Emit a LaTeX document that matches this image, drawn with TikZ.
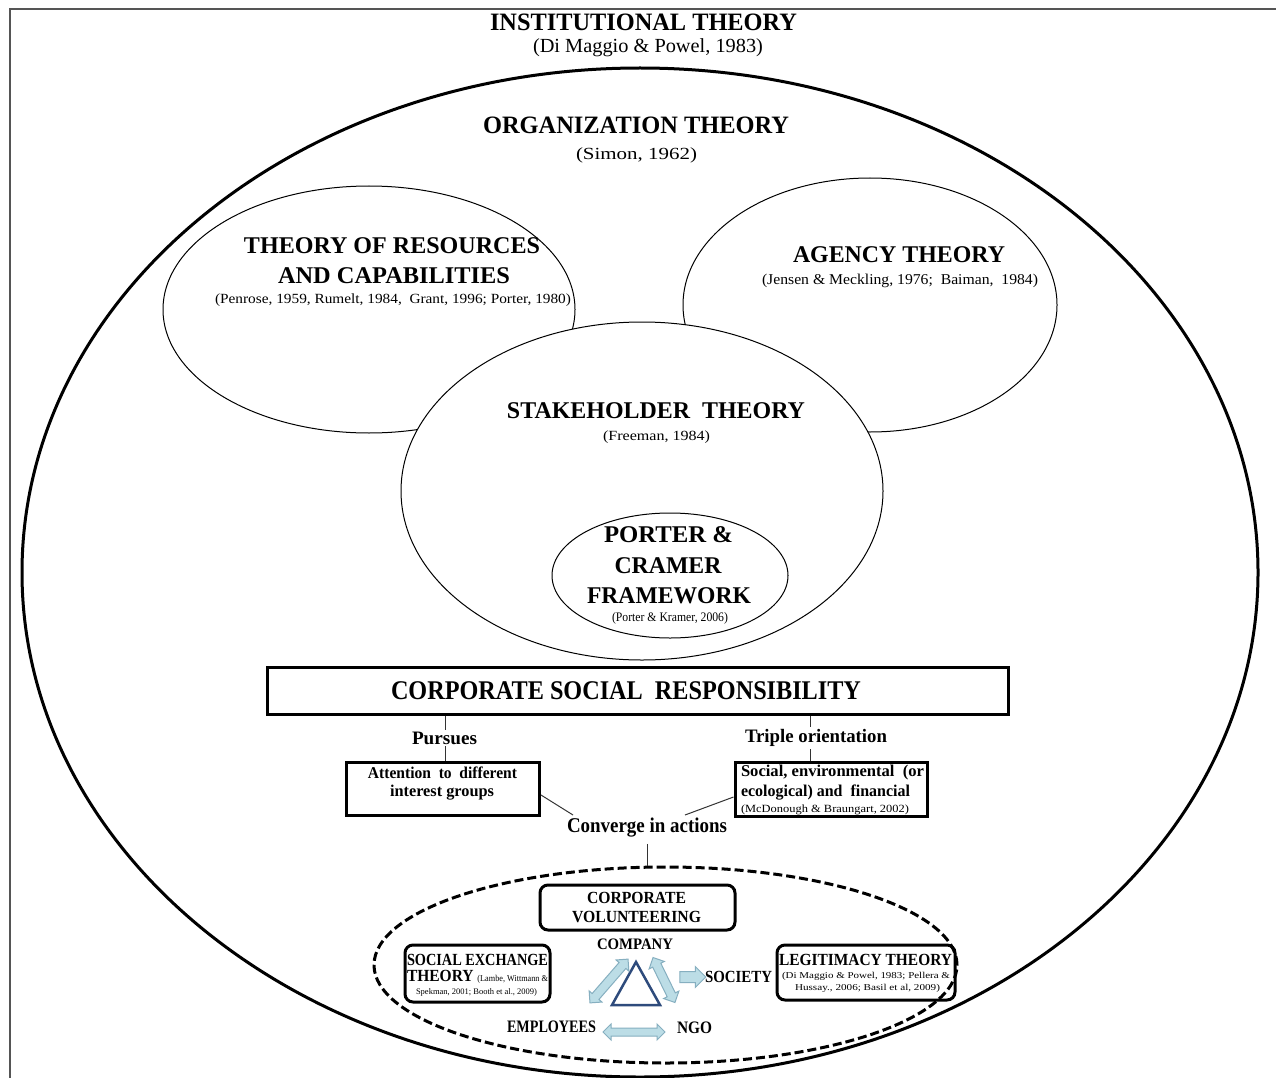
\documentclass[tikz,border=0pt]{standalone}
\usepackage{fontspec}
\setmainfont{Liberation Serif}
\usepackage{graphicx}
\usetikzlibrary{shapes.geometric,shapes.arrows}
\definecolor{arrfill}{HTML}{BCDDE6}
\definecolor{arrdraw}{HTML}{86AFC0}
\definecolor{triblue}{HTML}{2E4B7C}
\definecolor{framegray}{HTML}{555555}
\newcommand\fs[1]{\fontsize{#1}{#1}\selectfont}
\newcommand\sq[2]{\resizebox{#1pt}{\height}{#2}}
\begin{document}
\begin{tikzpicture}[x=1pt,y=-1pt,
  txt/.style={inner sep=0pt, align=center},
  thinell/.style={ellipse, draw, line width=1pt, inner sep=0pt},
  boxthick/.style={draw, line width=3pt, inner sep=0pt},
  rboxthick/.style={draw, line width=3pt, rounded corners=8pt, inner sep=0pt},
  arr/.style={fill=arrfill, draw=arrdraw, line width=1pt, inner xsep=0pt},
  conn/.style={draw=black!80, line width=1pt}]
\useasboundingbox (0,0) rectangle (1276,1078);
\fill[white] (0,0) rectangle (1276,1078);
\draw[framegray, line width=1.3pt] (10,1078) -- (10,9) -- (1276,9);

% ellipses
\node[ellipse, draw, line width=3pt, inner sep=0pt, minimum width=1236pt, minimum height=1009pt] (org) at (640,572.5) {};
\node[thinell, minimum width=412pt, minimum height=247pt] (res) at (369,309.5) {};
\node[thinell, minimum width=374pt, minimum height=254pt] (agy) at (870,305) {};
\node[thinell, fill=white, minimum width=482pt, minimum height=338pt] (stk) at (642,491) {};
\node[thinell, minimum width=236pt, minimum height=125pt] (pcf) at (670,575.5) {};

% titles
\node[txt] (inst) at (643.5,22) {\fs{25}\bfseries\sq{307}{INSTITUTIONAL THEORY}};
\node[txt] (instc) at (648,48) {\fs{20}\sq{230}{(Di Maggio \& Powel, 1983)}};
\node[txt] (orgt) at (636,125) {\fs{25}\bfseries\sq{306}{ORGANIZATION THEORY}};
\node[txt] (orgc) at (636.5,155) {\fs{17}\sq{121}{(Simon, 1962)}};

\node[txt] (rest1) at (392,246) {\fs{24}\bfseries\sq{296}{THEORY OF RESOURCES}};
\node[txt] (rest2) at (394,276) {\fs{24}\bfseries\sq{232}{AND CAPABILITIES}};
\node[txt] (resc) at (393,300) {\fs{14}\sq{356}{(Penrose, 1959, Rumelt, 1984,\ \ Grant, 1996; Porter, 1980)}};

\node[txt] (agyt) at (899,255) {\fs{24}\bfseries\sq{212}{AGENCY THEORY}};
\node[txt] (agyc) at (900,281) {\fs{15}\sq{276}{(Jensen \& Meckling, 1976;\ \ Baiman,\ \ 1984)}};

\node[txt] (stkt) at (656,411) {\fs{24}\bfseries\sq{298}{STAKEHOLDER\ \ THEORY}};
\node[txt] (stkc) at (656.5,437) {\fs{14}\sq{107}{(Freeman,\ 1984)}};

\node[txt] (pcf1) at (668.5,535) {\fs{24}\bfseries\sq{129}{PORTER \&}};
\node[txt] (pcf2) at (668,566) {\fs{24}\bfseries\sq{107}{CRAMER}};
\node[txt] (pcf3) at (669,596) {\fs{24}\bfseries\sq{164}{FRAMEWORK}};
\node[txt] (pcfc) at (670,618) {\fs{13}\sq{116}{(Porter \& Kramer, 2006)}};

% CSR
\node[boxthick, minimum width=741pt, minimum height=47pt] (csr) at (637.5,691) {};
\node[txt] (csrt) at (626,691) {\fs{27}\bfseries\sq{470}{CORPORATE SOCIAL\ \ RESPONSIBILITY}};

% attention / social boxes
\node[txt] (att1) at (442.5,773) {\fs{16.5}\bfseries\sq{149}{Attention\ \ to\ \ different}};
\node[txt] (att2) at (442,793) {\fs{16.5}\bfseries\sq{104}{interest groups}};
\node[boxthick, minimum width=193pt, minimum height=53pt] (att) at (443,789) {};

\node[txt] (soc1) at (832.5,773) {\fs{16.5}\bfseries\sq{183}{Social, environmental\ \ (or}};
\node[txt] (soc2) at (825.5,793) {\fs{16.5}\bfseries\sq{169}{ecological) and\ \ financial}};
\node[txt] (soc3) at (825,810) {\fs{11}\sq{168}{(McDonough \& Braungart, 2002)}};
\node[boxthick, minimum width=192pt, minimum height=54pt] (soc) at (831,789) {};

% connectors from CSR
\draw[conn] (csr.south -| 445,0) -- (att.north -| 445,0);
\node[txt, fill=white, inner ysep=2pt] (pur) at (444.5,738) {\fs{19}\bfseries\sq{65}{Pursues}};
\draw[conn] (csr.south -| 810,0) -- (soc.north -| 810,0);
\node[txt, fill=white, inner ysep=2pt] (tri) at (816,738) {\fs{19}\bfseries\sq{142}{Triple orientation}};

% converge
\node[txt] (conv) at (647,828) {\fs{21}\bfseries\sq{160}{Converge in actions}};
\coordinate (c1) at (573,815);
\coordinate (c2) at (685,815);
\draw[conn] ([yshift=-6pt]att.east) -- (c1);
\draw[conn] ([yshift=-8pt]soc.west) -- (c2);

% dashed ellipse
\node[ellipse, draw, line width=3pt, dash pattern=on 9pt off 4pt, inner sep=0pt, minimum width=583pt, minimum height=196pt] (dash) at (665.5,965) {};
\draw[conn] ([yshift=-6pt]conv.south) -- (conv.south |- dash.north);

% corporate volunteering
\node[rboxthick, minimum width=195pt, minimum height=45pt] (cv) at (637.5,907.5) {};
\node[txt] (cv1) at (636.5,898) {\fs{17}\bfseries\sq{99}{CORPORATE}};
\node[txt] (cv2) at (636.5,917) {\fs{17}\bfseries\sq{129}{VOLUNTEERING}};

% social exchange
\node[rboxthick, minimum width=145pt, minimum height=57pt] (se) at (477.5,973.5) {};
\node[txt] (se1) at (477.5,960) {\fs{17}\bfseries\sq{141}{SOCIAL EXCHANGE}};
\node[txt] (se2) at (477.5,977) {\sq{141}{\fs{17}\bfseries THEORY \fs{9}\mdseries(Lambe,\ Wittmann \&}};
\node[txt] (se3) at (476.5,992) {\fs{8.5}\sq{121}{Spekman, 2001; Booth et al., 2009)}};

% legitimacy
\node[rboxthick, minimum width=178pt, minimum height=55pt] (lt) at (866,972.5) {};
\node[txt] (lt1) at (865.5,960) {\fs{17}\bfseries\sq{173}{LEGITIMACY THEORY}};
\node[txt] (lt2) at (866,976) {\fs{9}\sq{168}{(Di Maggio \& Powel, 1983; Pellera \&}};
\node[txt] (lt3) at (867.5,988) {\fs{9}\sq{145}{Hussay., 2006; Basil et al, 2009)}};

% triangle actors
\node[txt] (comp) at (635,944) {\fs{16}\bfseries\sq{76}{COMPANY}};
\node[txt] (socy) at (738.5,977) {\fs{17}\bfseries\sq{67}{SOCIETY}};
\node[txt] (emp) at (551.5,1027) {\fs{17.5}\bfseries\sq{89}{EMPLOYEES}};
\node[txt] (ngo) at (694.5,1028) {\fs{17.5}\bfseries\sq{35}{NGO}};

\draw[triblue, line width=2.5pt] (636,962) -- (612,1005) -- (660,1005) -- cycle;

\node[arr, double arrow, double arrow head extend=4pt, inner ysep=4pt, minimum height=58pt, rotate=49] (a1) at (609,981) {};
\node[arr, double arrow, double arrow head extend=4pt, inner ysep=4pt, minimum height=50pt, rotate=-64] (a2) at (664,980) {};
\node[arr, single arrow, single arrow head extend=5pt, inner ysep=5pt, minimum height=26pt] (a3) at (690,977) {};
\node[arr, double arrow, double arrow head extend=4pt, inner ysep=3.5pt, minimum height=62pt] (a4) at (634,1032) {};
\end{tikzpicture}
\end{document}
